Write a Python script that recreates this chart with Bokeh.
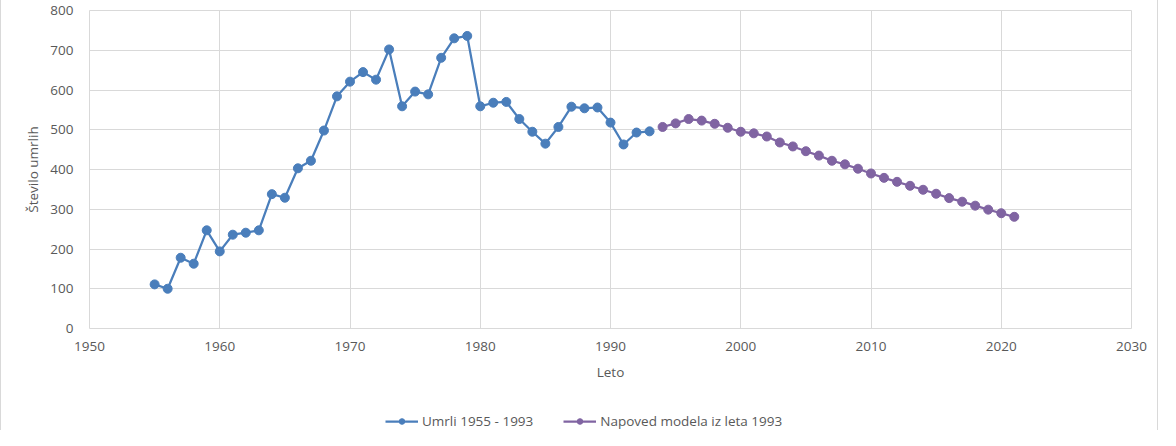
from bokeh.plotting import figure
from bokeh.models import FixedTicker, Legend, LegendItem, Range1d
from bokeh.layouts import column
from bokeh.embed import file_html
from bokeh.resources import INLINE

# --- data ---
years_obs = [1955, 1956, 1957, 1958, 1959, 1960, 1961, 1962, 1963, 1964,
             1965, 1966, 1967, 1968, 1969, 1970, 1971, 1972, 1973, 1974,
             1975, 1976, 1977, 1978, 1979, 1980, 1981, 1982, 1983, 1984,
             1985, 1986, 1987, 1988, 1989, 1990, 1991, 1992, 1993]
deaths_obs = [111, 100, 178, 163, 247, 194, 236, 241, 247, 338,
              329, 403, 422, 498, 584, 621, 645, 626, 702, 559,
              596, 589, 681, 730, 736, 559, 568, 570, 527, 495,
              465, 507, 558, 554, 556, 518, 463, 493, 496]

years_pred = [1994, 1995, 1996, 1997, 1998, 1999, 2000, 2001, 2002, 2003,
              2004, 2005, 2006, 2007, 2008, 2009, 2010, 2011, 2012, 2013,
              2014, 2015, 2016, 2017, 2018, 2019, 2020, 2021]
deaths_pred = [507, 516, 527, 523, 515, 505, 495, 491, 483, 468,
               458, 446, 435, 422, 413, 402, 390, 379, 369, 359,
               349, 339, 328, 319, 309, 299, 290, 281]

x_ticks = [1950, 1960, 1970, 1980, 1990, 2000, 2010, 2020, 2030]
y_ticks = [0, 100, 200, 300, 400, 500, 600, 700, 800]

label_obs = "Umrli 1955 - 1993"
label_pred = "Napoved modela iz leta 1993"
x_title = "Leto"
y_title = "Število umrlih"

BLUE = "#4A7EBB"
PURPLE = "#8064A2"
TEXT = "#595959"
GRID = "#D9D9D9"
FONT = "Open Sans"
FS = "13.5px"
SIDE_BORDER = {"border-left": "1px solid #D9D9D9", "border-right": "1px solid #D9D9D9"}

p = figure(width=1158, height=402, output_backend="svg", toolbar_location=None,
           x_range=Range1d(1950, 2030), y_range=Range1d(0, 800),
           min_border_left=88, min_border_right=28, min_border_top=10,
           min_border_bottom=74)
p.styles = SIDE_BORDER

p.outline_line_color = GRID
p.outline_line_width = 1
p.background_fill_color = "white"
p.border_fill_color = "white"

p.xgrid.ticker = FixedTicker(ticks=x_ticks)
p.ygrid.ticker = FixedTicker(ticks=y_ticks)
p.xgrid.grid_line_color = GRID
p.ygrid.grid_line_color = GRID

p.xaxis.ticker = FixedTicker(ticks=x_ticks)
p.yaxis.ticker = FixedTicker(ticks=y_ticks)
for ax in (p.xaxis[0], p.yaxis[0]):
    ax.axis_line_color = None
    ax.major_tick_line_color = None
    ax.minor_tick_line_color = None
    ax.major_label_text_color = TEXT
    ax.major_label_text_font = FONT
    ax.major_label_text_font_size = FS
    ax.axis_label_text_color = TEXT
    ax.axis_label_text_font = FONT
    ax.axis_label_text_font_size = FS
    ax.axis_label_text_font_style = "normal"

p.xaxis.axis_label = x_title
p.yaxis.axis_label = y_title
p.xaxis.major_label_standoff = 7
p.yaxis.major_label_standoff = 10
p.xaxis.axis_label_standoff = 9
p.yaxis.axis_label_standoff = 5

p.line(years_obs, deaths_obs, line_color=BLUE, line_width=2.25)
p.scatter(years_obs, deaths_obs, size=9, marker="circle",
          fill_color=BLUE, line_color=BLUE)
p.line(years_pred, deaths_pred, line_color=PURPLE, line_width=2.25)
p.scatter(years_pred, deaths_pred, size=9, marker="circle",
          fill_color=PURPLE, line_color=PURPLE)

# legend strip (separate small figure below the chart; its data lie outside its view)
lg = figure(width=1158, height=28, output_backend="svg", toolbar_location=None,
            x_range=Range1d(0, 1), y_range=Range1d(0, 1),
            min_border=0, outline_line_color=None)
lg.styles = SIDE_BORDER
lg.axis.visible = False
lg.grid.visible = False
k1 = lg.line(years_obs, deaths_obs, line_color=BLUE, line_width=2.25)
m1 = lg.scatter(years_obs, deaths_obs, size=8, marker="circle", fill_color=BLUE, line_color=BLUE)
k2 = lg.line(years_pred, deaths_pred, line_color=PURPLE, line_width=2.25)
m2 = lg.scatter(years_pred, deaths_pred, size=8, marker="circle", fill_color=PURPLE, line_color=PURPLE)

legend = Legend(items=[LegendItem(label=label_obs, renderers=[k1, m1]),
                       LegendItem(label=label_pred, renderers=[k2, m2])],
                orientation="horizontal", location=(296, 0),
                label_text_font=FONT, label_text_font_size=FS,
                label_text_color=TEXT, glyph_width=33, glyph_height=14,
                label_standoff=4, spacing=30, padding=0, margin=0,
                border_line_color=None, background_fill_alpha=0)
lg.add_layout(legend)

layout = column(p, lg, spacing=0)
open("out.html", "w").write(file_html(layout, INLINE))
